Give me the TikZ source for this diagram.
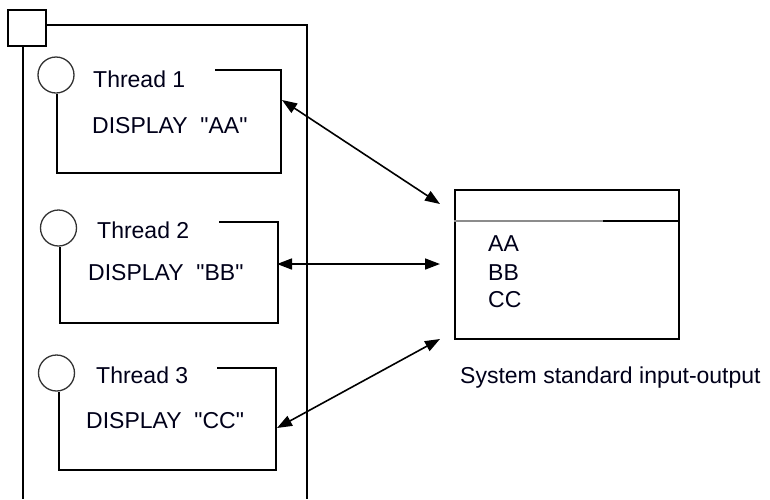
\documentclass[tikz,border=0pt]{standalone}
\usepackage{fontspec}
\setmainfont{Liberation Sans}
\usetikzlibrary{arrows.meta}
\newcommand{\qq}{\textquotedbl}
\begin{document}
\begin{tikzpicture}[x=1pt,y=-1pt,
  ln/.style={line width=1.5pt},
  circ/.style={draw=black!80,line width=1.3pt,circle,minimum size=36pt,inner sep=0pt},
  txt/.style={font=\fontsize{23}{26}\selectfont,anchor=base west,inner sep=0pt,text=black!90!blue},
  dbl/.style={line width=1.6pt,{Triangle[length=15pt,width=11pt]}-{Triangle[length=15pt,width=11pt]}}]
\useasboundingbox (0,0) rectangle (770,499);
% outer frame
\node[draw,ln,minimum width=38pt,minimum height=36pt,inner sep=0pt,anchor=north west] (sq) at (7,9) {};
\draw[ln] (sq.east |- 0,25) -- (307,25) -- (307,499);
\draw[ln] (23,45) -- (23,499);
% thread 1
\node[circ] (c1) at (56,75) {};
\node[txt] (th1) at (93,87) {Thread 1};
\node[txt] (d1) at (92,133) {DISPLAY\ \ \qq AA\qq};
\draw[ln] (215,70) -- (281,70) -- (281,173) -- (57,173) -- (c1.south -| 57,0);
% thread 2
\node[circ] (c2) at (58.5,228) {};
\node[txt] (th2) at (97,238) {Thread 2};
\node[txt] (d2) at (88,280) {DISPLAY\ \ \qq BB\qq};
\draw[ln] (219,222) -- (278,222) -- (278,323) -- (60,323) -- (c2.south -| 60,0);
% thread 3
\node[circ] (c3) at (56.5,373) {};
\node[txt] (th3) at (96,383) {Thread 3};
\node[txt] (d3) at (86,428) {DISPLAY\ \ \qq CC\qq};
\draw[ln] (217,368) -- (276,368) -- (276,470) -- (59,470) -- (c3.south -| 59,0);
% io box
\node[draw,ln,minimum width=224pt,minimum height=149pt,inner sep=0pt,anchor=north west] (io) at (454,189) {};
\draw[line width=1.5pt,black!45] (io.west |- 0,221) -- (603,221);
\draw[ln] (603,221) -- (io.east |- 0,221);
\node[txt] (aa) at (488,251) {AA};
\node[txt] (bb) at (488,280) {BB};
\node[txt] (cc) at (488,307) {CC};
\node[txt] (sys) at (460,383) {System standard input-output};
% connectors
\coordinate (p1) at (282,100);
\coordinate (q1) at (440,204);
\coordinate (p2) at (277,264);
\coordinate (q2) at (440,264);
\coordinate (p3) at (277,428);
\coordinate (q3) at (440,339);
\draw[dbl] (p1) -- (q1);
\draw[dbl] (p2) -- (q2);
\draw[dbl] (p3) -- (q3);
\end{tikzpicture}
\end{document}
